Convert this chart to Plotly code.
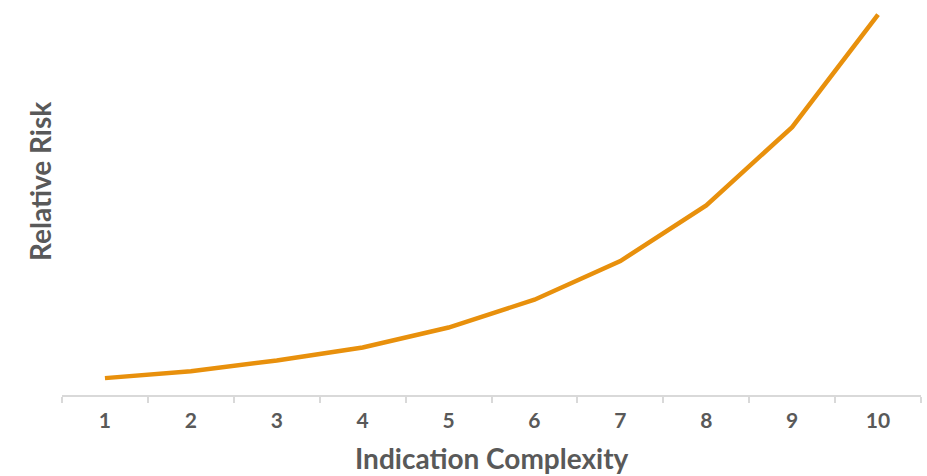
import plotly.graph_objects as go

categories = ["1", "2", "3", "4", "5", "6", "7", "8", "9", "10"]
relative_risk = [1.0, 1.41, 2.05, 2.82, 4.0, 5.65, 7.94, 11.24, 15.88, 22.55]

x_title = "Indication Complexity"
y_title = "Relative Risk"

line_color = "#E8900C"
text_color = "#595959"
axis_color = "#D9D9D9"
font_family = "Lato, 'DejaVu Sans', sans-serif"

fig = go.Figure(
    go.Scatter(
        x=categories,
        y=relative_risk,
        mode="lines",
        line=dict(color=line_color, width=4.5),
        hoverinfo="x+y",
    )
)

fig.update_layout(
    width=927,
    height=476,
    margin=dict(l=62, r=6, t=7, b=81),
    paper_bgcolor="white",
    plot_bgcolor="white",
    showlegend=False,
    font=dict(family=font_family, color=text_color),
    annotations=[
        dict(
            text="<b>" + x_title + "</b>",
            xref="paper", yref="paper",
            x=0.5, y=-0.163,
            xanchor="center", yanchor="middle",
            showarrow=False,
            font=dict(size=28, color=text_color, family=font_family),
        ),
        dict(
            text="<b>" + y_title + "</b>",
            xref="paper", yref="paper",
            x=-0.0255, y=0.549,
            xanchor="center", yanchor="middle",
            textangle=-90,
            showarrow=False,
            font=dict(size=28, color=text_color, family=font_family),
        ),
    ],
)

fig.update_xaxes(
    type="category",
    range=[-0.5, 9.5],
    showline=True,
    linecolor=axis_color,
    linewidth=2,
    ticks="outside",
    tickson="boundaries",
    ticklen=6,
    tickwidth=2,
    tickcolor=axis_color,
    ticklabelstandoff=6,
    showgrid=False,
    zeroline=False,
    tickfont=dict(size=21, color=text_color, family=font_family),
    tickprefix="<b>",
    ticksuffix="</b>",
)

fig.update_yaxes(
    range=[0, 23],
    showline=False,
    showgrid=False,
    zeroline=False,
    showticklabels=False,
    ticks="",
)

fig.write_html(
    "out.html",
    config={"displayModeBar": False},
    post_script="document.body.style.margin='0';document.body.style.overflow='hidden';",
)
